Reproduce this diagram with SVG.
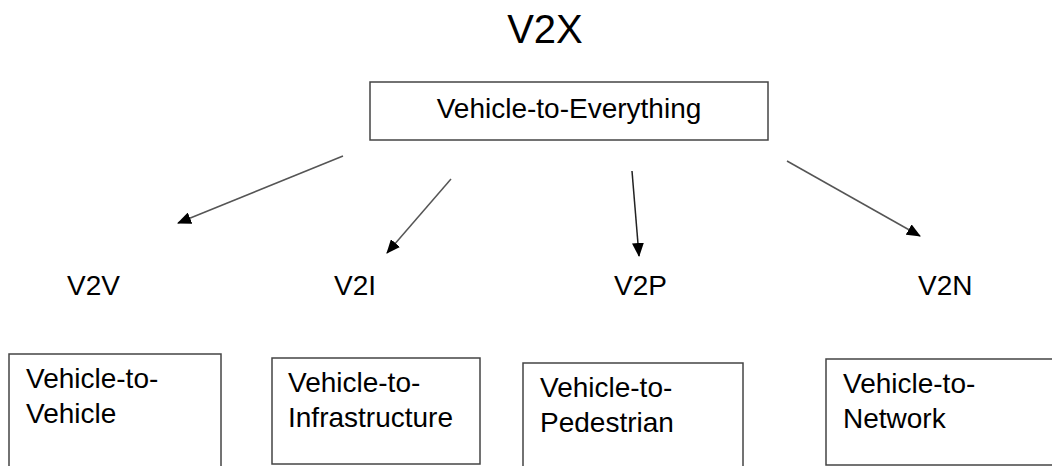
<svg xmlns="http://www.w3.org/2000/svg" width="1052" height="466" viewBox="0 0 1052 466">
<style>
text{font-family:"Liberation Sans",Arial,sans-serif;fill:#000}
.box{fill:#fff;stroke:#444;stroke-width:1.5}
.lbl{font-size:28px}
.conn{stroke:#555;stroke-width:1.5;fill:none}
</style>
<defs>
<marker id="ah" markerWidth="14" markerHeight="12" refX="13" refY="6" orient="auto" markerUnits="userSpaceOnUse" viewBox="0 0 14 12">
<path d="M0,0 L14,6 L0,12 z" fill="#000"/>
</marker>
</defs>
<rect width="1052" height="466" fill="#fff"/>
<g id="title"><text x="545" y="43" font-size="40" text-anchor="middle">V2X</text></g>
<g id="root"><rect class="box" x="370" y="82" width="398" height="58"/><text class="lbl" x="569" y="118" text-anchor="middle">Vehicle-to-Everything</text></g>
<g id="connectors">
<line class="conn" x1="343" y1="156" x2="178" y2="223" marker-end="url(#ah)"/>
<line class="conn" x1="451" y1="179" x2="387" y2="253" marker-end="url(#ah)"/>
<line class="conn" x1="632" y1="171" x2="639" y2="256" marker-end="url(#ah)" style="stroke:#222"/>
<line class="conn" x1="787" y1="161" x2="920" y2="236" marker-end="url(#ah)"/>
</g>
<g id="v2v"><text class="lbl" x="67" y="295">V2V</text></g>
<g id="v2i"><text class="lbl" x="334" y="295">V2I</text></g>
<g id="v2p"><text class="lbl" x="614" y="295">V2P</text></g>
<g id="v2n"><text class="lbl" x="918" y="295">V2N</text></g>
<g id="box-v2v"><rect class="box" x="9" y="354" width="212" height="120"/><text class="lbl" x="26" y="388">Vehicle-to-</text><text class="lbl" x="26" y="423">Vehicle</text></g>
<g id="box-v2i"><rect class="box" x="272" y="358" width="208" height="106"/><text class="lbl" x="288" y="392">Vehicle-to-</text><text class="lbl" x="288" y="427">Infrastructure</text></g>
<g id="box-v2p"><rect class="box" x="523" y="363" width="220" height="110"/><text class="lbl" x="540" y="397">Vehicle-to-</text><text class="lbl" x="540" y="432">Pedestrian</text></g>
<g id="box-v2n"><rect class="box" x="826" y="359" width="240" height="106"/><text class="lbl" x="843" y="393">Vehicle-to-</text><text class="lbl" x="843" y="428">Network</text></g>
</svg>
